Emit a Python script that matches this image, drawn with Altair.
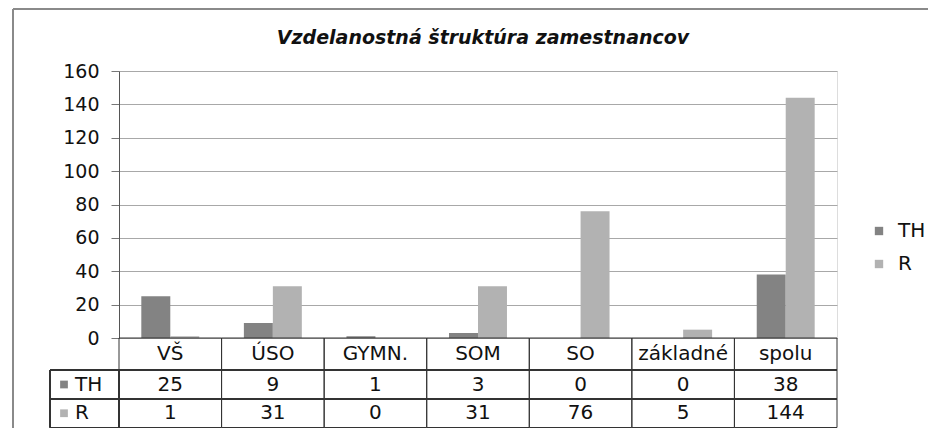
import altair as alt
import pandas as pd

# ---- data ----
categories = ["VŠ", "ÚSO", "GYMN.", "SOM", "SO", "základné", "spolu"]
series = ["TH", "R"]
th_values = [25, 9, 1, 3, 0, 0, 38]
r_values = [1, 31, 0, 31, 76, 5, 144]
y_ticks = [0, 20, 40, 60, 80, 100, 120, 140, 160]
title_text = ["Vzdelanostná štruktúra zamestnancov"]

# ---- styles ----
colors = ["#838383", "#b2b2b2"]
FONT = "DejaVu Sans"
W, H = 718, 267
row_tops = [267, 299, 328, 356.5]          # header / TH / R rows (px from plot top)
row_centers = [(row_tops[i] + row_tops[i + 1]) / 2 for i in range(3)]
left_col = -69

long = pd.DataFrame(
    [(c, "TH", v) for c, v in zip(categories, th_values)]
    + [(c, "R", v) for c, v in zip(categories, r_values)],
    columns=["cat", "series", "value"],
)
cats_df = pd.DataFrame({"cat": categories})

X = alt.X("cat:N", sort=categories,
          scale=alt.Scale(domain=categories, paddingInner=0, paddingOuter=0),
          axis=None)

bars = alt.Chart(long).mark_bar().encode(
    x=X,
    xOffset=alt.XOffset("series:N", sort=series,
                        scale=alt.Scale(domain=series, paddingInner=0, paddingOuter=0.77)),
    y=alt.Y("value:Q",
            scale=alt.Scale(domain=[0, 160], nice=False),
            axis=alt.Axis(values=y_ticks, title=None, labelFont=FONT, labelFontSize=19,
                          labelColor="#111111", tickSize=8, tickColor="#777777",
                          domainColor="#555555", gridColor="#a8a8a8", labelPadding=12,
                          grid=True)),
    color=alt.Color("series:N", sort=series,
                    scale=alt.Scale(domain=series, range=colors),
                    legend=alt.Legend(title=None, orient="none", legendX=750, legendY=150,
                                      symbolType="square", symbolSize=70,
                                      symbolStrokeWidth=0, labelFont=FONT,
                                      labelFontSize=20, labelColor="#111111",
                                      labelOffset=9, rowPadding=13, padding=0)),
)

# table cells per category column
cells = alt.Chart(cats_df).mark_rect(fillOpacity=0, stroke="#333333", strokeWidth=1).encode(
    x=X, y=alt.value(row_tops[0]), y2=alt.value(row_tops[3])
)
hlines = [
    alt.Chart(cats_df).mark_rule(color="#333333", strokeWidth=1).encode(
        x=alt.value(left_col), x2=alt.value(W), y=alt.value(yv))
    for yv in row_tops[1:3]
]
left_cell = alt.Chart(cats_df).mark_rect(fillOpacity=0, stroke="#333333", strokeWidth=1).encode(
    x=alt.value(left_col), x2=alt.value(0), y=alt.value(row_tops[1]), y2=alt.value(row_tops[3])
)

header = alt.Chart(cats_df).mark_text(font=FONT, fontSize=20, color="#111111").encode(
    x=X, y=alt.value(row_centers[0]), text="cat:N"
)

row_layers = []
for i, s in enumerate(series):
    sub = long[long["series"] == s]
    row_layers.append(
        alt.Chart(sub).mark_text(font=FONT, fontSize=20, color="#111111").encode(
            x=X, y=alt.value(row_centers[i + 1]), text="value:Q")
    )
    lab = pd.DataFrame({"series": [s]})
    row_layers.append(
        alt.Chart(lab).mark_text(font=FONT, fontSize=20, color="#111111", align="left").encode(
            x=alt.value(left_col + 25), y=alt.value(row_centers[i + 1]), text="series:N")
    )
    row_layers.append(
        alt.Chart(lab).mark_square(size=60, opacity=1).encode(
            x=alt.value(left_col + 14), y=alt.value(row_centers[i + 1]), fill=alt.value(colors[i]))
    )

# chart title (as text mark so it sits inside the outer frame)
title = alt.Chart(pd.DataFrame({"t": title_text})).mark_text(
    font=FONT, fontSize=19, fontStyle="italic", fontWeight="bold", color="#111111",
    align="center", baseline="alphabetic"
).encode(x=alt.value(364), y=alt.value(-27), text="t:N")

# outer frame
frame = [
    alt.Chart(cats_df).mark_rule(color="#8a8a8a", strokeWidth=1.5).encode(
        x=alt.value(-106), y=alt.value(-62), y2=alt.value(380)),
    alt.Chart(cats_df).mark_rule(color="#8a8a8a", strokeWidth=1.5).encode(
        x=alt.value(-106), x2=alt.value(830), y=alt.value(-62)),
]

chart = alt.layer(bars, cells, *hlines, left_cell, header, *row_layers, title, *frame).properties(
    width=W, height=H,
    padding={"left": 111, "top": 63, "right": 91, "bottom": 90},
    autosize=alt.AutoSizeParams(type="none"),
).configure_view(stroke=None).configure(background="white")

chart.save("out.html", embed_options={"renderer": "svg", "actions": False})
